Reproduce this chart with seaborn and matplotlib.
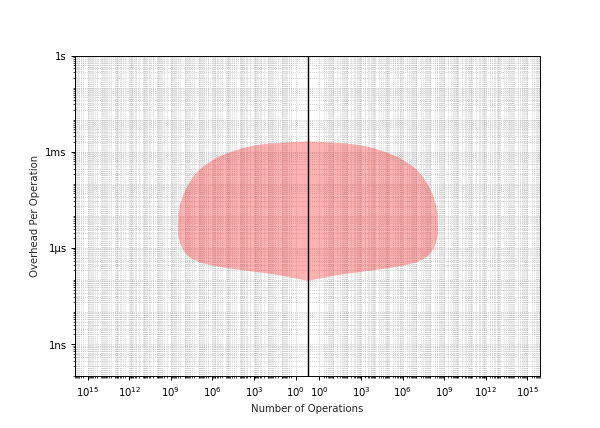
import numpy as np
import matplotlib
matplotlib.use("Agg")
import matplotlib.pyplot as plt
from matplotlib.ticker import LogLocator, NullFormatter
import seaborn as sns

# outline of the mirrored shape: log10(seconds) and half width in decades
log_overhead = [-2.66, -2.68, -2.71, -2.74, -2.80, -2.87, -2.99, -3.12, -3.24,
                -3.40, -3.55, -3.77, -4.02, -4.33, -4.64, -4.95, -5.27, -5.58,
                -5.83, -6.04, -6.20, -6.32, -6.42, -6.48, -6.54, -6.60, -6.67,
                -6.73, -6.79, -6.85, -6.92, -7.01]
half_width = [0.0, 0.96, 2.04, 3.12, 3.98, 4.70, 5.56, 6.35, 6.86,
              7.43, 7.86, 8.29, 8.65, 9.01, 9.23, 9.34, 9.37, 9.37,
              9.23, 9.01, 8.73, 8.37, 7.94, 7.43, 6.86, 5.99, 4.91,
              3.83, 2.76, 1.89, 1.10, 0.0]

x_exponents = [0, 3, 6, 9, 12, 15]
y_tick_values = [1e-9, 1e-6, 1e-3, 1]
y_tick_labels = ['1ns', '1\u03bcs', '1ms', '1s']

offset = 0.86     # gap between the centre line and 10^0, in decades
x_max = 16.77

sns.set_style("ticks")
plt.rcParams['font.family'] = ['DejaVu Sans']
plt.rcParams['font.size'] = 8.5

fig, ax = plt.subplots(figsize=(7, 5), dpi=600 / 7)
fig.subplots_adjust(left=0.125, right=0.9, top=0.869, bottom=0.121)

y = 10 ** np.array(log_overhead)
w = np.array(half_width)
ax.fill_betweenx(y, -w, w, color='red', alpha=0.3, linewidth=0, zorder=2)
ax.axvline(0, color='black', linewidth=1.2, zorder=3)

ax.set_yscale('log')
ax.set_ylim(1e-10, 1)
ax.set_xlim(-x_max, x_max)

# mirrored decade ticks
major = []
labels = []
for e in x_exponents:
    major += [-(e + offset), e + offset]
    labels += ['$\\mathdefault{10^{%d}}$' % e] * 2
order = np.argsort(major)
ax.set_xticks(np.array(major)[order])
ax.set_xticklabels(np.array(labels)[order])

minor = []
for d in range(0, 17):
    for m in range(1, 10):
        p = d + np.log10(m) + offset
        if p < x_max and not (m == 1 and d in x_exponents):
            minor += [p, -p]
ax.set_xticks(sorted(minor), minor=True)

ax.set_yticks(y_tick_values)
ax.set_yticklabels(y_tick_labels)
ax.yaxis.set_minor_locator(LogLocator(base=10, subs=np.arange(1, 10), numticks=100))
ax.yaxis.set_minor_formatter(NullFormatter())

ax.grid(True, which='both', color='#b4b4b4', linestyle=':', linewidth=0.6, zorder=0)
ax.set_axisbelow(True)
for s in ax.spines.values():
    s.set_color('black')
ax.tick_params(which='both', colors='black', direction='out', labelsize=8.5)

ax.set_xlabel('Number of Operations', fontsize=8.5)
ax.set_ylabel('Overhead Per Operation', fontsize=8.5)

fig.savefig('out.png', dpi=600 / 7)
